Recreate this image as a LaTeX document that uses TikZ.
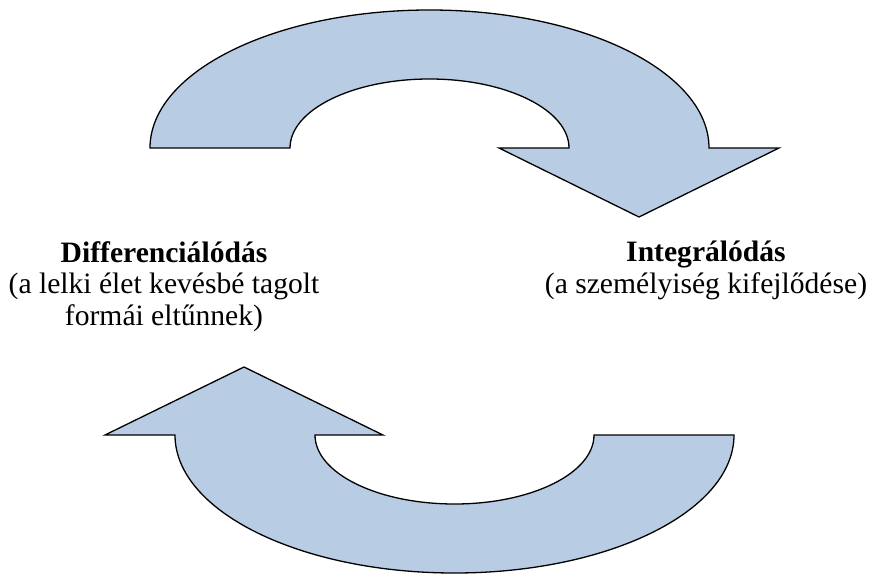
\documentclass[tikz,border=0pt]{standalone}
\usepackage{fontspec}
\setmainfont{Liberation Serif}
\definecolor{arrowblue}{RGB}{184,204,228}
\begin{document}
\begin{tikzpicture}[x=1pt,y=1pt,
  curvearrow/.style={fill=arrowblue, draw=black, line width=1.3pt, line join=miter},
  caption/.style={align=center, inner sep=0pt, anchor=base,
    font=\fontsize{29.6}{31.5}\selectfont}]
\useasboundingbox (0,0) rectangle (875,574);

% upper arrow: arcs over the top and points down to the right
\path[curvearrow] (150,426)
  arc[start angle=180, end angle=0, x radius=279.5, y radius=138]
  -- (779,426) -- (639,357) -- (499,426) -- (569,426)
  arc[start angle=0, end angle=180, x radius=139.5, y radius=69]
  -- cycle;

% lower arrow: arcs under the bottom and points up to the left
\path[curvearrow] (734,139)
  arc[start angle=0, end angle=-180, x radius=279.5, y radius=138]
  -- (105,139) -- (244,207) -- (383,139) -- (315,139)
  arc[start angle=180, end angle=360, x radius=139.5, y radius=69]
  -- cycle;

% the base anchor of a multi-line node sits on its last line
\node[caption] (diff) at (164,249)
  {\textbf{Differenciálódás}\\(a lelki élet kevésbé tagolt\\formái eltűnnek)};
\node[caption] (integ) at (706,281)
  {\textbf{Integrálódás}\\(a személyiség kifejlődése)};
\end{tikzpicture}
\end{document}
